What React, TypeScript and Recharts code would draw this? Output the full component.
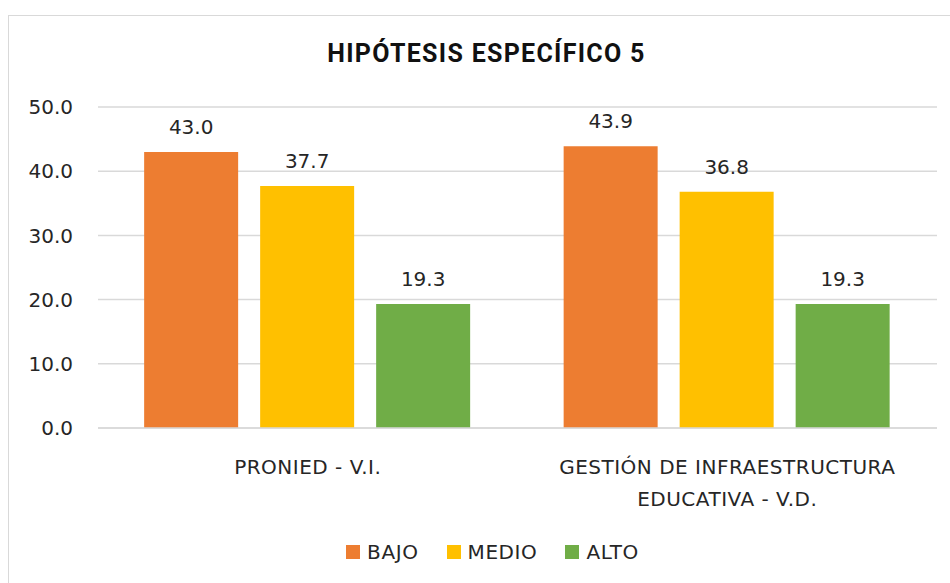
import { Bar, BarChart, CartesianGrid, LabelList, Legend, XAxis, YAxis } from "recharts"

const categories = ["PRONIED - V.I.", "GESTIÓN DE INFRAESTRUCTURA EDUCATIVA - V.D."]
const categoryLines = [["PRONIED - V.I."], ["GESTIÓN DE INFRAESTRUCTURA", "EDUCATIVA - V.D."]]
const bajo = [43.0, 43.9]
const medio = [37.7, 36.8]
const alto = [19.3, 19.3]
const yTicks = [0, 10, 20, 30, 40, 50]

const series = [
  { key: "bajo", name: "BAJO", color: "#ED7D31" },
  { key: "medio", name: "MEDIO", color: "#FFC000" },
  { key: "alto", name: "ALTO", color: "#70AD47" },
]

const data = categories.map((name, i) => ({
  name,
  bajo: bajo[i],
  medio: medio[i],
  alto: alto[i],
}))

const FONT = "'DejaVu Sans', sans-serif"
const TEXT = "#262626"

function CategoryTick(props: any) {
  const { x, y, payload } = props
  const lines = categoryLines[categories.indexOf(payload.value)] || [payload.value]
  return (
    <g transform={`translate(${x},${y})`}>
      {lines.map((l: string, i: number) => (
        <text key={i} x={0} y={38 + i * 32} textAnchor="middle" fill={TEXT} fontSize={20} fontFamily={FONT} letterSpacing={0.5}>
          {l}
        </text>
      ))}
    </g>
  )
}

function LegendContent() {
  return (
    <div style={{ display: "flex", justifyContent: "center", alignItems: "center", height: 30, fontFamily: FONT, fontSize: 20, color: TEXT, letterSpacing: 0.6 }}>
      {series.map((s, i) => (
        <div key={s.key} style={{ display: "flex", alignItems: "center", marginLeft: i === 0 ? 0 : 28 }}>
          <span style={{ display: "inline-block", width: 14, height: 14, background: s.color, marginRight: 7 }} />
          <span>{s.name}</span>
        </div>
      ))}
    </div>
  )
}

export default function App() {
  return (
    <div style={{ position: "absolute", left: 0, top: 0, width: 950, height: 583, overflow: "hidden", background: "#fff" }}>
      <div style={{ position: "absolute", left: 8, top: 15, width: 1000, height: 700, border: "1px solid #d9d9d9" }} />
      <div
        style={{
          position: "absolute",
          left: 8,
          width: 957,
          top: 40,
          textAlign: "center",
          fontFamily: "Roboto, sans-serif",
          fontWeight: 700,
          fontSize: 25,
          letterSpacing: 1.3,
          color: "#111",
          lineHeight: "28px",
        }}
      >
        HIPÓTESIS ESPECÍFICO 5
      </div>
      <div style={{ position: "absolute", left: 0, top: 0 }}>
        <BarChart
          width={950}
          height={583}
          data={data}
          margin={{ top: 107, right: 13, left: 0, bottom: 16 }}
          barCategoryGap="11%"
          barGap={22}
        >
          <CartesianGrid vertical={false} stroke="#d9d9d9" strokeWidth={1.5} />
          <XAxis
            dataKey="name"
            height={109}
            tickLine={false}
            axisLine={{ stroke: "#d9d9d9", strokeWidth: 1.5 }}
            tick={<CategoryTick />}
            interval={0}
          />
          <YAxis
            width={98}
            domain={[0, 50]}
            ticks={yTicks}
            tickLine={false}
            axisLine={false}
            tickSize={0}
            tickMargin={25}
            tickFormatter={(v: number) => v.toFixed(1)}
            tick={{ fill: TEXT, fontSize: 20, fontFamily: FONT }}
          />
          <Legend verticalAlign="bottom" height={30} wrapperStyle={{ left: 24, height: 30 }} content={<LegendContent />} />
          {series.map((s) => (
            <Bar key={s.key} dataKey={s.key} name={s.name} fill={s.color} isAnimationActive={false}>
              <LabelList
                dataKey={s.key}
                position="top"
                offset={18}
                formatter={(v: any) => Number(v).toFixed(1)}
                style={{ fill: TEXT, fontSize: 20, fontFamily: FONT }}
              />
            </Bar>
          ))}
        </BarChart>
      </div>
    </div>
  )
}
